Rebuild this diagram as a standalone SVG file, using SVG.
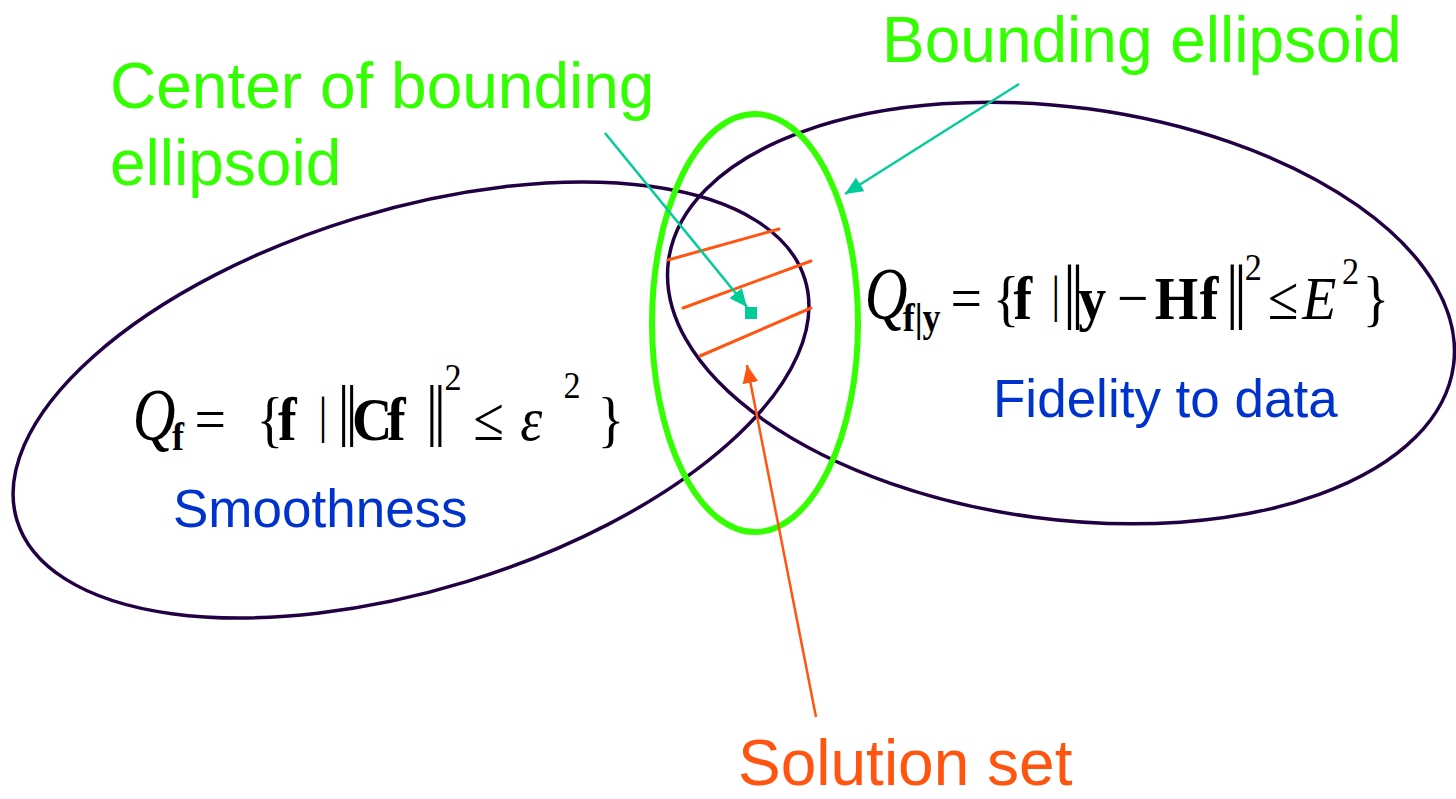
<svg xmlns="http://www.w3.org/2000/svg" width="1456" height="799" viewBox="0 0 1456 799">
<defs>
<style>
.set{fill:none;stroke:#220044;stroke-width:3.5}
.bound{fill:none;stroke:#33ff00;stroke-width:6}
.hatch{stroke:#ff5511;stroke-width:3;stroke-linecap:round}
.lbl{font-family:"Liberation Sans",Arial,sans-serif;font-size:64px}
.grn{fill:#33ff00}
.blue{font-family:"Liberation Sans",Arial,sans-serif;font-size:53px;fill:#0033cc}
.org{fill:#ff5511}
.m{font-family:"Liberation Serif","Times New Roman",serif;font-size:62px;fill:#000}
.q{font-family:"Liberation Serif","Times New Roman",serif;font-size:74px;font-style:italic;fill:#000}
.b{font-weight:bold}
.i{font-style:italic}
.sup{font-size:38px}
.sub{font-size:40px;font-weight:bold}
.bar{font-size:50px}
.teal{stroke:#00cc99;stroke-width:2.5;fill:none}
.orl{stroke:#ff5511;stroke-width:2.5;fill:none}
</style>
<marker id="ahT" markerUnits="userSpaceOnUse" markerWidth="20" markerHeight="16" refX="18" refY="8" orient="auto">
<path d="M0,0 L18,8 L0,16 Z" fill="#00cc99"/>
</marker>
<marker id="ahO" markerUnits="userSpaceOnUse" markerWidth="20" markerHeight="16" refX="18" refY="8" orient="auto">
<path d="M0,0 L18,8 L0,16 Z" fill="#ff5511"/>
</marker>
</defs>
<rect width="1456" height="799" fill="#fff"/>

<g id="smoothness-set">
<ellipse class="set" cx="411" cy="400" rx="412" ry="190" transform="rotate(-17 411 400)"/>
<text class="q" transform="scale(0.8,1)" x="166" y="440">Q</text>
<text class="m" transform="scale(0.9,1)" y="440"><tspan class="sub" x="191" y="450">f</tspan><tspan x="216" y="440">=</tspan><tspan x="285">{</tspan><tspan class="b" x="309">f</tspan><tspan class="bar" x="354" y="432">|</tspan><tspan font-size="68" x="375" y="433">|</tspan><tspan font-size="68" x="384">|</tspan><tspan class="b" x="391" y="440">C</tspan><tspan class="b" x="430">f</tspan><tspan font-size="68" x="473" y="433">|</tspan><tspan font-size="68" x="482">|</tspan><tspan class="sup" x="494" y="390">2</tspan><tspan x="526" y="440">≤</tspan><tspan class="i" x="578">ε</tspan><tspan class="sup" x="626" y="398">2</tspan><tspan x="664" y="440">}</tspan></text>
<text class="blue" x="173" y="527">Smoothness</text>
</g>

<g id="fidelity-set">
<ellipse class="set" cx="1061" cy="313" rx="396" ry="206" transform="rotate(7.6 1061 313)"/>
<text class="q" transform="scale(0.8,1)" x="1081" y="319">Q</text>
<text class="m" transform="scale(0.9,1)" y="319"><tspan class="sub" x="1003" y="331">f|y</tspan><tspan x="1056" y="319">=</tspan><tspan x="1103">{</tspan><tspan class="b" x="1126">f</tspan><tspan class="bar" x="1168" y="311">|</tspan><tspan font-size="72" x="1181" y="315">|</tspan><tspan font-size="72" x="1190">|</tspan><tspan class="b" x="1198" y="319">y</tspan><tspan x="1241">−</tspan><tspan class="b" x="1283">H</tspan><tspan class="b" x="1333">f</tspan><tspan font-size="72" x="1362" y="315">|</tspan><tspan font-size="72" x="1371">|</tspan><tspan class="sup" x="1383" y="280">2</tspan><tspan x="1409" y="319">≤</tspan><tspan class="i" x="1447">E</tspan><tspan class="sup" x="1491" y="284">2</tspan><tspan x="1514" y="319">}</tspan></text>
<text class="blue" x="993" y="417">Fidelity to data</text>
</g>

<g id="bounding-ellipsoid">
<ellipse class="bound" cx="755" cy="323" rx="103" ry="209"/>
</g>

<g id="solution-set">
<line class="hatch" x1="668" y1="260" x2="779" y2="229"/>
<line class="hatch" x1="683" y1="308" x2="811" y2="261"/>
<line class="hatch" x1="700" y1="356" x2="811" y2="308"/>
</g>

<g id="center-point">
<rect x="745" y="307" width="12" height="12" fill="#00cc99"/>
</g>

<g id="labels">
<text class="lbl grn" x="110" y="108">Center of bounding</text>
<text class="lbl grn" x="110" y="185">ellipsoid</text>
<text class="lbl grn" x="882" y="62">Bounding ellipsoid</text>
<text class="lbl org" x="738" y="785">Solution set</text>
</g>

<g id="connectors">
<line class="teal" x1="605" y1="133" x2="747" y2="307" marker-end="url(#ahT)"/>
<line class="teal" x1="1019" y1="84" x2="845" y2="194" marker-end="url(#ahT)"/>
<line class="orl" x1="816" y1="717" x2="747" y2="365" marker-end="url(#ahO)"/>
</g>
</svg>
